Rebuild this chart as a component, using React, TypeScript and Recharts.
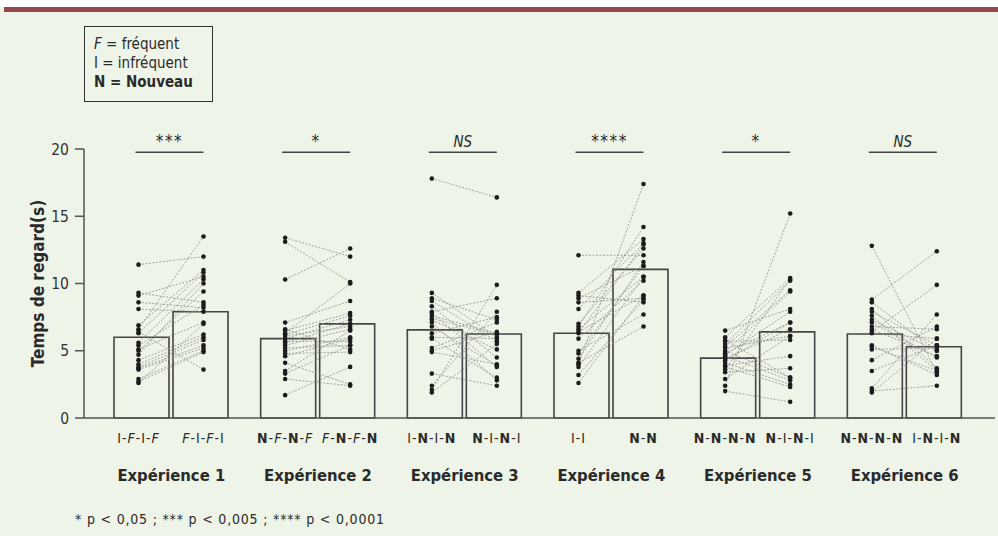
import React from 'react';
import { ComposedChart, Bar, Scatter, XAxis, YAxis, ReferenceLine } from 'recharts';

// ---------- data ----------
const experiments = ['Expérience 1', 'Expérience 2', 'Expérience 3', 'Expérience 4', 'Expérience 5', 'Expérience 6'];
const conditionA = ['I-F-I-F', 'N-F-N-F', 'I-N-I-N', 'I-I', 'N-N-N-N', 'N-N-N-N'];
const conditionB = ['F-I-F-I', 'F-N-F-N', 'N-I-N-I', 'N-N', 'N-I-N-I', 'I-N-I-N'];
const meanA = [6.0, 5.9, 6.55, 6.3, 4.45, 6.25];
const meanB = [7.9, 7.0, 6.25, 11.05, 6.4, 5.3];
const significance = ['***', '*', 'NS', '****', '*', 'NS'];
const yTicks = [0, 5, 10, 15, 20];

const exp1A = [11.4, 9.3, 9.1, 8.6, 8.1, 6.9, 6.6, 6.4, 6.3, 5.6, 5.4, 5.1, 5.0, 4.7, 4.3, 4.0, 3.8, 3.7, 3.6, 2.9, 2.7, 2.6];
const exp1B = [12.0, 8.6, 10.5, 8.2, 7.9, 11.0, 13.5, 3.6, 10.8, 10.3, 8.4, 7.1, 9.4, 10.0, 6.2, 6.0, 5.8, 5.4, 5.2, 5.0, 4.9, 7.0];
const exp2A = [13.4, 13.1, 10.3, 7.1, 6.6, 6.5, 6.3, 6.2, 6.1, 5.9, 5.7, 5.6, 5.4, 5.2, 5.0, 4.8, 4.6, 4.1, 3.5, 2.9, 3.3, 1.7];
const exp2B = [12.0, 10.1, 12.6, 8.7, 5.1, 7.8, 10.0, 7.6, 6.8, 7.3, 5.7, 7.0, 6.6, 5.4, 6.0, 4.9, 5.9, 2.5, 6.5, 2.4, 5.4, 3.8];
const exp3A = [17.8, 9.3, 8.9, 8.7, 8.3, 7.9, 7.8, 7.6, 7.3, 7.1, 6.3, 5.9, 5.2, 5.0, 4.9, 3.3, 2.4, 2.1, 1.9, 7.4, 6.8, 6.0];
const exp3B = [16.4, 6.0, 7.3, 5.7, 4.5, 8.9, 3.8, 6.3, 5.1, 2.8, 7.5, 3.0, 7.1, 6.4, 4.0, 2.4, 7.9, 9.9, 5.5, 6.2, 3.9, 5.9];
const exp4A = [12.1, 9.3, 9.1, 8.9, 8.6, 8.1, 6.8, 6.6, 6.4, 6.3, 5.9, 5.0, 4.8, 4.1, 4.0, 3.8, 3.2, 2.6, 7.0, 4.4];
const exp4B = [12.1, 13.3, 8.6, 11.3, 8.9, 13.0, 14.2, 10.5, 9.1, 12.9, 10.2, 7.7, 11.3, 6.8, 17.4, 10.5, 8.8, 9.1, 12.6, 11.6];
const exp5A = [6.5, 6.0, 5.7, 5.5, 5.3, 5.2, 5.0, 4.9, 4.7, 4.6, 4.4, 4.3, 4.1, 3.9, 3.8, 3.6, 3.4, 2.9, 2.4, 2.0, 5.8, 4.8];
const exp5B = [8.1, 10.4, 5.8, 10.2, 9.5, 6.1, 3.0, 9.4, 7.9, 2.8, 6.6, 7.1, 2.5, 4.6, 2.3, 10.3, 3.7, 6.1, 15.2, 1.2, 3.0, 7.1];
const exp6A = [12.8, 8.8, 8.6, 8.1, 7.9, 7.6, 7.1, 6.8, 6.4, 6.3, 5.4, 5.1, 4.3, 3.5, 2.2, 2.0, 1.9, 7.3, 6.6, 5.3];
const exp6B = [3.4, 12.4, 5.0, 3.7, 5.4, 3.5, 4.5, 6.6, 9.9, 5.9, 3.2, 5.2, 6.8, 5.4, 7.7, 2.4, 5.9, 5.0, 4.6, 3.5];

const subjectsA = [exp1A, exp2A, exp3A, exp4A, exp5A, exp6A];
const subjectsB = [exp1B, exp2B, exp3B, exp4B, exp5B, exp6B];

// ---------- layout ----------
const W = 998;
const H = 536;
const MARGIN = { top: 149, right: 3, bottom: 38, left: 0 };
const Y_W = 84;
const X_H = 80;
const PAD_L = 14;
const PAD_R = 17;
const BAR = 55;
const GAP = 10;
const FONT = "'Liberation Sans Narrow', 'DejaVu Sans Condensed', Roboto, sans-serif";
const INK = '#2a2a2a';
const AXIS = '#555';

const plotW = W - MARGIN.left - MARGIN.right - Y_W;
const band = (plotW - PAD_L - PAD_R) / experiments.length;
const groupOff = Math.floor((band - 2 * BAR - GAP) / 2);
const posA = (groupOff + BAR / 2) / band;
const posB = (groupOff + BAR + GAP + BAR / 2) / band;

const barData = experiments.map((exp, i) => ({ exp, a: meanA[i], b: meanB[i] }));
const pairs = experiments.flatMap((_, i) =>
  subjectsA[i].map((v, j) => [
    { x: i + posA, y: v },
    { x: i + posB, y: subjectsB[i][j] },
  ])
);
const dotsA = experiments.map((_, i) => subjectsA[i].map((v) => ({ x: i + posA, y: v })));
const dotsB = experiments.map((_, i) => subjectsB[i].map((v) => ({ x: i + posB, y: v })));

function seq(label: string) {
  return label.split('').map((ch, k) => {
    if (ch === 'N') return <tspan key={k} fontWeight={700}>N</tspan>;
    if (ch === 'F') return <tspan key={k} fontStyle="italic">F</tspan>;
    return <tspan key={k}>{ch}</tspan>;
  });
}

const ExpTick = (props: any) => {
  const { x, y, payload } = props;
  const i = experiments.indexOf(payload.value);
  const dA = (posA - 0.5) * band;
  const dB = (posB - 0.5) * band;
  return (
    <g>
      <text x={x + dA} y={y + 25} textAnchor="middle" fontSize={14} letterSpacing={1} fill={INK}>{seq(conditionA[i])}</text>
      <text x={x + dB} y={y + 25} textAnchor="middle" fontSize={14} letterSpacing={1} fill={INK}>{seq(conditionB[i])}</text>
      <text x={x} y={y + 63} textAnchor="middle" fontSize={16.5} fontWeight={700} fill={INK}>{payload.value}</text>
    </g>
  );
};

const dot = (p: any) => <circle cx={p.cx} cy={p.cy} r={2.3} fill="#1c1c1c" />;
const noDot = (p: any) => <circle cx={p.cx} cy={p.cy} r={0} fill="none" />;

export default function App() {
  return (
    <div style={{ position: 'absolute', left: 0, top: 0, width: W, height: H, background: '#eef4e7', overflow: 'hidden', fontFamily: FONT }}>
      <div style={{ position: 'absolute', left: 0, top: 0, width: W, height: 7, background: '#ffffff' }} />
      <div style={{ position: 'absolute', left: 4, top: 7, width: W - 4, height: 5, background: '#96464f' }} />
      <div style={{ position: 'absolute', left: 0, top: 0 }}>
        <ComposedChart width={W} height={H} data={barData} margin={MARGIN} style={{ fontFamily: FONT }}>
          <XAxis
            xAxisId="cat"
            dataKey="exp"
            padding={{ left: PAD_L, right: PAD_R }}
            height={X_H}
            tickLine={false}
            tickSize={0}
            tickMargin={0}
            interval={0}
            tick={<ExpTick />}
            axisLine={{ stroke: AXIS, strokeWidth: 1.5 }}
          />
          <XAxis xAxisId="num" type="number" dataKey="x" domain={[0, experiments.length]} padding={{ left: PAD_L, right: PAD_R }} height={0} hide allowDataOverflow />
          <YAxis
            yAxisId="v"
            width={Y_W}
            domain={[0, 20]}
            ticks={yTicks}
            tickSize={9}
            tickMargin={6}
            tick={{ fill: '#333', fontSize: 15.5 }}
            tickLine={{ stroke: AXIS, strokeWidth: 1.5 }}
            axisLine={{ stroke: AXIS, strokeWidth: 1.5 }}
            label={{ value: 'Temps de regard(s)', angle: -90, position: 'insideLeft', offset: 38, style: { textAnchor: 'middle', fontWeight: 700, fontSize: 17, fill: INK } }}
          />
          <YAxis yAxisId="s" orientation="right" width={0} type="number" dataKey="y" domain={[0, 20]} hide allowDataOverflow />
          <Bar xAxisId="cat" yAxisId="v" dataKey="a" barSize={BAR} fill="none" stroke="#444" strokeWidth={1.6} isAnimationActive={false} />
          <Bar xAxisId="cat" yAxisId="v" dataKey="b" barSize={BAR} fill="none" stroke="#444" strokeWidth={1.6} isAnimationActive={false} />
          {pairs.map((p, k) => (
            <Scatter
              key={'l' + k}
              xAxisId="num"
              yAxisId="s"
              data={p}
              line={{ stroke: '#8f8f8f', strokeWidth: 0.8, strokeDasharray: '2 1.5' }}
              shape={noDot}
              isAnimationActive={false}
            />
          ))}
          {dotsA.map((d, k) => (
            <Scatter key={'a' + k} xAxisId="num" yAxisId="s" data={d} shape={dot} isAnimationActive={false} />
          ))}
          {dotsB.map((d, k) => (
            <Scatter key={'b' + k} xAxisId="num" yAxisId="s" data={d} shape={dot} isAnimationActive={false} />
          ))}
          {significance.map((s, i) => (
            <ReferenceLine
              key={'s' + i}
              xAxisId="num"
              yAxisId="s"
              segment={[
                { x: i + posA - 3 / band, y: 19.75 },
                { x: i + posB, y: 19.75 },
              ]}
              stroke="#444"
              strokeWidth={1.5}
              label={{ value: s, position: 'top', fill: INK, fontSize: s === 'NS' ? 15 : 17, fontStyle: s === 'NS' ? 'italic' : 'normal', letterSpacing: s === 'NS' ? 0 : 1.5 }}
            />
          ))}
        </ComposedChart>
      </div>
      <div
        style={{
          position: 'absolute',
          left: 84,
          top: 26,
          width: 127,
          height: 74,
          border: '1px solid #333',
          boxSizing: 'content-box',
          fontSize: 15,
          lineHeight: '19px',
          color: INK,
        }}
      >
        <div style={{ position: 'absolute', left: 9, top: 8, whiteSpace: 'nowrap' }}>
          <div><i>F</i> = fréquent</div>
          <div>I = infréquent</div>
          <div style={{ fontWeight: 700 }}>N = Nouveau</div>
        </div>
      </div>
      <div style={{ position: 'absolute', left: 75, top: 511, fontSize: 14, letterSpacing: 0.8, color: INK, whiteSpace: 'nowrap' }}>
        * p &lt; 0,05 ; *** p &lt; 0,005 ; **** p &lt; 0,0001
      </div>
    </div>
  );
}
